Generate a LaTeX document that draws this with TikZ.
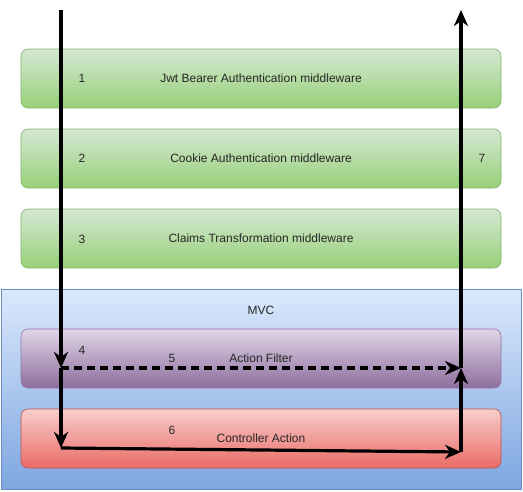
\documentclass[tikz,border=0pt]{standalone}
\usepackage{fontspec}
\setmainfont{Liberation Sans}
\usetikzlibrary{arrows.meta,positioning}
\definecolor{greenTop}{HTML}{D5E8D4}
\definecolor{greenBot}{HTML}{97D077}
\definecolor{greenEdge}{HTML}{82B366}
\definecolor{blueTop}{HTML}{DAE8FC}
\definecolor{blueBot}{HTML}{7EA6E0}
\definecolor{blueEdge}{HTML}{6C8EBF}
\definecolor{purpleTop}{HTML}{E1D5E7}
\definecolor{purpleBot}{HTML}{8D6E9D}
\definecolor{purpleEdge}{HTML}{9673A6}
\definecolor{redTop}{HTML}{F8CECC}
\definecolor{redBot}{HTML}{EA6B66}
\definecolor{redEdge}{HTML}{B85450}
\tikzset{
  layerbox/.style={draw, rounded corners=7pt, minimum width=480pt, minimum height=59pt,
    line width=0.6pt, inner sep=0pt, text=black!85, font=\fontsize{12}{14}\selectfont},
  greenlayer/.style={layerbox, draw=greenEdge, top color=greenTop, bottom color=greenBot},
  purplelayer/.style={layerbox, draw=purpleEdge, top color=purpleTop, bottom color=purpleBot},
  redlayer/.style={layerbox, draw=redEdge, top color=redTop, bottom color=redBot},
  mvcbox/.style={draw=blueEdge, line width=0.6pt, top color=blueTop, bottom color=blueBot,
    minimum width=520pt, minimum height=200pt, inner sep=0pt},
  stepnum/.style={text=black!85, font=\fontsize{12}{14}\selectfont, inner sep=0pt},
  flowln/.style={-{Stealth[length=16pt,width=14pt,inset=5pt]}, line width=3.2pt},
  dashln/.style={flowln, dash pattern=on 8pt off 5pt},
}

\begin{document}
\begin{tikzpicture}[x=1pt, y=-1pt]
    \useasboundingbox (0,0) rectangle (523,491);
    % Middleware layers
    \node[greenlayer] (jwt) at (261,78.5) {Jwt Bearer Authentication middleware};
    \node[greenlayer] (cookie) at (261,158.5) {Cookie Authentication middleware};
    \node[greenlayer] (claims) at (261,238.5) {Claims Transformation middleware};
    % MVC container
    \node[mvcbox] (mvc) at (261,389) {};
    \node[stepnum] (mvclbl) at (261,310) {MVC};
    \node[purplelayer] (filter) at (261,358.5) {Action Filter};
    \node[redlayer] (action) at (261,438.5) {Controller Action};
    % Step numbers
    \node[stepnum] (n1) at (82,78) {1};
    \node[stepnum] (n2) at (82,158) {2};
    \node[stepnum] (n3) at (82,239) {3};
    \node[stepnum] (n4) at (82,350) {4};
    \node[stepnum] (n5) at (172,358) {5};
    \node[stepnum] (n6) at (172,430) {6};
    \node[stepnum] (n7) at (482,158) {7};
    % Request path
    \coordinate (reqin) at (61,10);
    \coordinate (fltin) at (61,368);
    \coordinate (actin) at (61,448);
    \coordinate (actout) at (461,452);
    \coordinate (fltout) at (461,368);
    \coordinate (respout) at (461,10);
    \draw[flowln] (reqin) -- (fltin);
    \draw[flowln] (fltin) -- (actin);
    \draw[dashln] (fltin) -- (fltout);
    \draw[flowln] (actin) -- (actout);
    \draw[flowln] (actout) -- (fltout);
    \draw[flowln] (fltout) -- (respout);
\end{tikzpicture}
\end{document}
